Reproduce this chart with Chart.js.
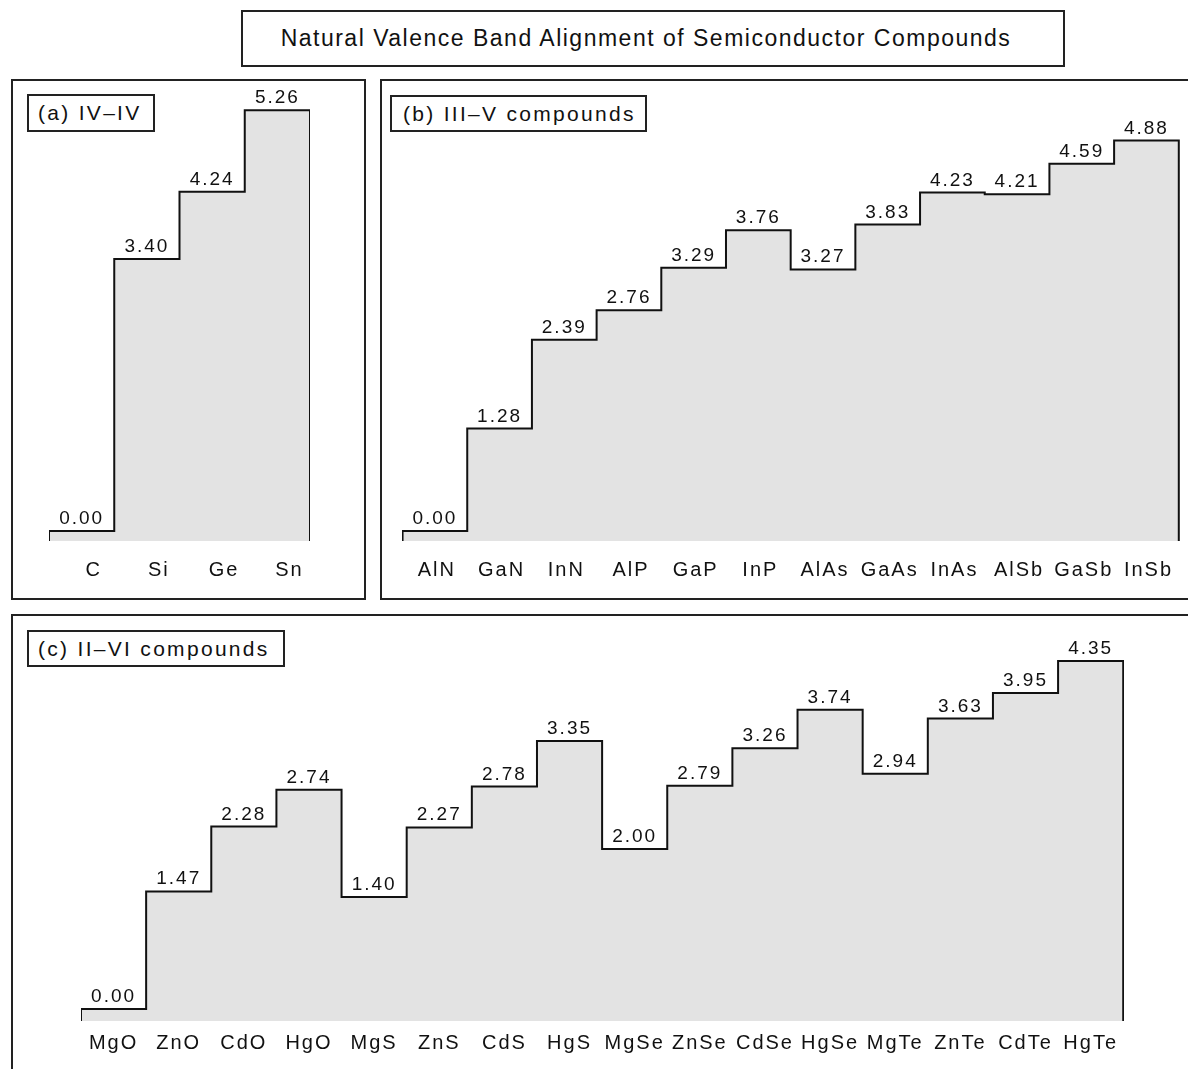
<!DOCTYPE html>
<html>
<head>
<meta charset="utf-8">
<script src="https://cdn.jsdelivr.net/npm/chart.js@4.4.1/dist/chart.umd.min.js"></script>
<style>
  body { margin: 0; width: 1188px; height: 1069px; overflow: hidden; position: relative; background: #fff;
         font-family: "Liberation Sans", Arial, sans-serif; color: #111; }
  .frame { position: absolute; border: 2px solid #222; box-sizing: border-box; }
  .tag { position: absolute; border: 2px solid #222; box-sizing: border-box; background: #fff;
         font-size: 21px; letter-spacing: 2.3px; line-height: 33px; padding-left: 9px; white-space: nowrap; }
  .title { position: absolute; border: 2px solid #222; box-sizing: border-box; text-align: center;
           font-size: 23px; letter-spacing: 1.5px; line-height: 52px; white-space: nowrap; padding-right: 14px; }
  canvas { position: absolute; }
</style>
</head>
<body>
<div class="title" style="left:241px;top:10px;width:824px;height:57px;">Natural Valence Band Alignment of Semiconductor Compounds</div>

<div class="frame" style="left:11px;top:79px;width:355px;height:521px;"></div>
<div class="frame" style="left:380px;top:79px;width:830px;height:521px;"></div>
<div class="frame" style="left:11px;top:614px;width:1200px;height:480px;"></div>

<canvas id="chartA" width="261" height="530" style="left:49px;top:61px;"></canvas>
<canvas id="chartB" width="782" height="530" style="left:402px;top:61px;"></canvas>
<canvas id="chartC" width="1043" height="460" style="left:81px;top:611px;"></canvas>

<div class="tag" style="left:27px;top:94px;width:128px;height:38px;">(a) IV–IV</div>
<div class="tag" style="left:390px;top:95px;width:257px;height:37px;padding-left:11px;">(b) III–V compounds</div>
<div class="tag" style="left:27px;top:630px;width:258px;height:37px;">(c) II–VI compounds</div>

<script>
// valence band offsets (eV)
const groupA = ['C', 'Si', 'Ge', 'Sn'];
const offsetsA = [0.00, 3.40, 4.24, 5.26];

const groupB = ['AlN', 'GaN', 'InN', 'AlP', 'GaP', 'InP', 'AlAs', 'GaAs', 'InAs', 'AlSb', 'GaSb', 'InSb'];
const offsetsB = [0.00, 1.28, 2.39, 2.76, 3.29, 3.76, 3.27, 3.83, 4.23, 4.21, 4.59, 4.88];

const groupC = ['MgO', 'ZnO', 'CdO', 'HgO', 'MgS', 'ZnS', 'CdS', 'HgS',
                'MgSe', 'ZnSe', 'CdSe', 'HgSe', 'MgTe', 'ZnTe', 'CdTe', 'HgTe'];
const offsetsC = [0.00, 1.47, 2.28, 2.74, 1.40, 2.27, 2.78, 3.35,
                  2.00, 2.79, 3.26, 3.74, 2.94, 3.63, 3.95, 4.35];

const FONT = '"Liberation Sans", Arial, sans-serif';

// one point at the left edge of every compound, plus the closing edges down to the floor
function stepPoints(values, floor) {
    const pts = [{ x: 0, y: floor }];
    values.forEach((v, i) => pts.push({ x: i, y: v }));
    pts.push({ x: values.length, y: values[values.length - 1] });
    pts.push({ x: values.length, y: floor });
    return pts;
}

// spaced-out text like the original bitmap font
const spacing = {
    id: 'spacing',
    beforeDraw(chart) { chart.ctx.letterSpacing = '2px'; }
};

// value written above each step
const stepLabels = {
    id: 'stepLabels',
    afterDatasetsDraw(chart) {
        const { ctx, scales } = chart;
        const values = chart.options.plugins.stepLabels.values;
        ctx.save();
        ctx.letterSpacing = '2px';
        ctx.font = '19px ' + FONT;
        ctx.fillStyle = '#111';
        ctx.textAlign = 'center';
        ctx.textBaseline = 'alphabetic';
        values.forEach((v, i) => {
            const x = scales.x.getPixelForValue(i + 0.5);
            const y = scales.y.getPixelForValue(v) - 7;
            ctx.fillText(v.toFixed(2), x, y);
        });
        ctx.restore();
    }
};

function makeChart(id, names, values, yMin, yMax, pad, labelShift) {
    new Chart(document.getElementById(id), {
        type: 'line',
        data: {
            datasets: [{
                data: stepPoints(values, yMin),
                stepped: 'before',
                borderColor: '#111',
                borderWidth: 2,
                backgroundColor: '#e3e3e3',
                fill: 'start',
                pointRadius: 0,
                clip: false
            }]
        },
        options: {
            responsive: false,
            animation: false,
            layout: { padding: { top: 30, left: 0, right: 0, bottom: 0 } },
            plugins: {
                legend: { display: false },
                tooltip: { enabled: false },
                stepLabels: { values: values }
            },
            scales: {
                x: {
                    type: 'linear',
                    min: 0,
                    max: names.length,
                    grid: { display: false, drawTicks: false },
                    border: { display: false },
                    afterBuildTicks(scale) {
                        scale.ticks = names.map((n, i) => ({ value: i + 0.5 }));
                    },
                    afterFit(scale) { scale.height = 50; },
                    ticks: {
                        autoSkip: false,
                        maxRotation: 0,
                        padding: pad,
                        labelOffset: labelShift,
                        color: '#111',
                        font: { family: FONT, size: 20 },
                        callback: (v) => names[Math.floor(v)]
                    }
                },
                y: { display: false, min: yMin, max: yMax }
            }
        },
        plugins: [spacing, stepLabels]
    });
}

makeChart('chartA', groupA, offsetsA, -0.125, 5.5, 17, 12);
makeChart('chartB', groupB, offsetsB, -0.125, 5.5, 17, 2);
makeChart('chartC', groupC, offsetsC, -0.15, 4.6, 10, 0);
</script>
</body>
</html>
